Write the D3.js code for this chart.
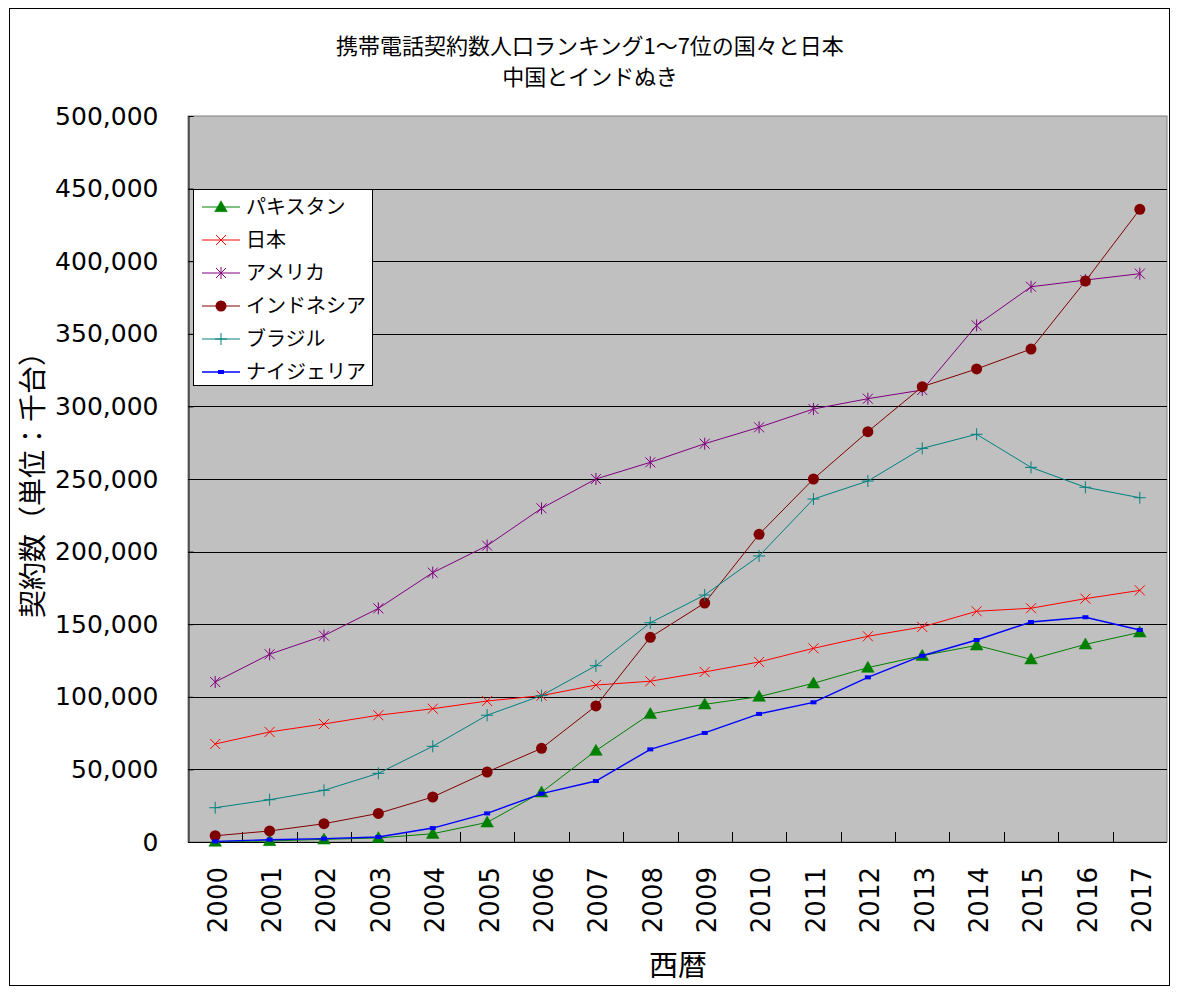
<!DOCTYPE html>
<html>
<head>
<meta charset="utf-8">
<script src="https://cdn.jsdelivr.net/npm/d3@7"></script>
<style>
  body { margin: 0; background: #FFFFFF; }
</style>
</head>
<body>
<div id="vis_container" style="width:1180px;height:992px;"></div>
<script>
var years = ["2000","2001","2002","2003","2004","2005","2006","2007","2008","2009","2010","2011","2012","2013","2014","2015","2016","2017"];
var seriesNames = ["パキスタン","日本","アメリカ","インドネシア","ブラジル","ナイジェリア"];
var pakistan  = [300, 700, 1800, 2800, 5700, 13500, 34200, 62900, 88200, 94800, 100100, 109300, 120100, 128300, 135400, 125800, 136100, 144400];
var japan     = [67500, 75800, 81300, 87300, 91800, 97100, 100800, 108100, 110700, 117100, 124000, 133400, 141700, 148100, 158900, 161000, 167600, 173300];
var america   = [110200, 129300, 142100, 160900, 185500, 204100, 229800, 250000, 261500, 274300, 285600, 298200, 305300, 311300, 355800, 382400, 387000, 391400];
var indonesia = [4300, 7600, 12600, 19700, 31000, 48200, 64500, 93700, 141000, 164600, 211900, 250000, 282600, 313600, 325800, 339500, 386300, 435700];
var brazil    = [23600, 29100, 35600, 47300, 65900, 87300, 100800, 121400, 151000, 170100, 197000, 236200, 248600, 271100, 280800, 258000, 244300, 237100];
var nigeria   = [400, 1600, 2300, 3400, 9600, 19700, 33300, 42000, 63800, 75100, 88200, 96200, 113400, 128300, 139100, 151500, 154800, 146000];
var yTicks = [0, 50000, 100000, 150000, 200000, 250000, 300000, 350000, 400000, 450000, 500000];
var titleLines = ["携帯電話契約数人口ランキング1～7位の国々と日本", "中国とインドぬき"];

var chart = {};
chart.width = 1180;
chart.height = 992;
chart.plot = {"left": 188, "right": 1167, "top": 116, "bottom": 842};
chart.font = "'Noto Sans CJK JP', sans-serif";
chart.numFont = "'DejaVu Sans', sans-serif";

var series = [
	{name: seriesNames[0], values: pakistan,  color: "#008000", marker: "triangle"},
	{name: seriesNames[1], values: japan,     color: "#FF0000", marker: "x"},
	{name: seriesNames[2], values: america,   color: "#800080", marker: "star"},
	{name: seriesNames[3], values: indonesia, color: "#800000", marker: "circle"},
	{name: seriesNames[4], values: brazil,    color: "#008080", marker: "plus"},
	{name: seriesNames[5], values: nigeria,   color: "#0000FF", marker: "square"}
];

chart.svg = d3.select("#vis_container").append("svg")
	.attr("width", chart.width)
	.attr("height", chart.height)
	.style("background-color", "#FFFFFF");

// outer frame
chart.svg.append("rect")
	.attr("x", 9.5).attr("y", 8.5)
	.attr("width", 1160).attr("height", 977)
	.attr("fill", "#FFFFFF")
	.attr("stroke", "#000000")
	.attr("stroke-width", 1);

chart.x = d3.scaleBand()
	.domain(years)
	.range([chart.plot.left, chart.plot.right]);

chart.y = d3.scaleLinear()
	.domain([0, 500000])
	.range([chart.plot.bottom, chart.plot.top]);

// plot background
chart.svg.append("rect")
	.attr("x", chart.plot.left)
	.attr("y", chart.plot.top)
	.attr("width", chart.plot.right - chart.plot.left)
	.attr("height", chart.plot.bottom - chart.plot.top)
	.attr("fill", "#C0C0C0")
	.attr("stroke", "#808080")
	.attr("stroke-width", 1);

// gridlines
chart.svg.append("g").selectAll("line")
	.data(yTicks.filter(function(d) { return d > 0 && d < 500000; }))
	.enter().append("line")
	.attr("x1", chart.plot.left)
	.attr("x2", chart.plot.right)
	.attr("y1", function(d) { return Math.round(chart.y(d)) + 0.5; })
	.attr("y2", function(d) { return Math.round(chart.y(d)) + 0.5; })
	.attr("stroke", "#000000")
	.attr("stroke-width", 1);

// y axis
var yAxis = d3.axisLeft(chart.y)
	.tickValues(yTicks)
	.tickSize(-5)
	.tickPadding(30)
	.tickFormat(d3.format(","));
var yg = chart.svg.append("g")
	.attr("transform", "translate(" + (chart.plot.left + 0.5) + ",0)")
	.call(yAxis);
yg.select(".domain").attr("stroke", "#000000");
yg.selectAll(".tick line").attr("stroke", "#000000");
yg.selectAll(".tick text")
	.attr("font-family", chart.numFont)
	.attr("font-size", "25px")
	.attr("fill", "#000000");

// x axis: ticks between categories, labels rotated
var xg = chart.svg.append("g");
xg.append("line")
	.attr("x1", chart.plot.left).attr("x2", chart.plot.right)
	.attr("y1", chart.plot.bottom + 0.5).attr("y2", chart.plot.bottom + 0.5)
	.attr("stroke", "#000000");
xg.selectAll(".xtick")
	.data(years.slice(1))
	.enter().append("line")
	.attr("class", "xtick")
	.attr("x1", function(d) { return Math.round(chart.x(d)) + 0.5; })
	.attr("x2", function(d) { return Math.round(chart.x(d)) + 0.5; })
	.attr("y1", chart.plot.bottom)
	.attr("y2", chart.plot.bottom - 10)
	.attr("stroke", "#000000");
xg.selectAll(".xlabel")
	.data(years)
	.enter().append("text")
	.attr("class", "xlabel")
	.attr("transform", function(d) {
		return "translate(" + (chart.x(d) + chart.x.bandwidth() / 2 + 2) + "," + 867 + ") rotate(-90)";
	})
	.attr("dy", "0.36em")
	.attr("text-anchor", "end")
	.attr("font-family", chart.numFont)
	.attr("font-size", "26px")
	.attr("fill", "#000000")
	.text(function(d) { return d; });

// axis titles
chart.svg.append("text")
	.attr("x", 678)
	.attr("y", 976)
	.attr("text-anchor", "middle")
	.attr("font-family", chart.font)
	.attr("font-size", "29px")
	.attr("fill", "#000000")
	.text("西暦");

chart.svg.append("text")
	.attr("transform", "translate(43,478) rotate(-90)")
	.attr("text-anchor", "middle")
	.attr("font-family", chart.font)
	.attr("font-size", "28px")
	.attr("fill", "#000000")
	.text("契約数（単位：千台）");

// title
chart.svg.append("g").selectAll("text")
	.data(titleLines)
	.enter().append("text")
	.attr("x", 590)
	.attr("y", function(d, i) { return 54 + i * 31; })
	.attr("text-anchor", "middle")
	.attr("font-family", chart.font)
	.attr("font-size", "22px")
	.attr("fill", "#000000")
	.text(function(d) { return d; });

// marker drawing
function drawMarker(sel, type, color) {
	if (type == "triangle") {
		sel.append("path")
			.attr("d", d3.symbol().type(d3.symbolTriangle).size(70))
			.attr("transform", "translate(0,1)")
			.attr("fill", color).attr("stroke", color).attr("stroke-width", 0.5);
	} else if (type == "circle") {
		sel.append("circle")
			.attr("r", 5.5)
			.attr("fill", color);
	} else if (type == "square") {
		sel.append("rect")
			.attr("x", -3).attr("y", -2)
			.attr("width", 6).attr("height", 4)
			.attr("fill", color);
	} else if (type == "x") {
		sel.append("path")
			.attr("d", "M-5,-5L5,5M-5,5L5,-5")
			.attr("stroke", color).attr("stroke-width", 1).attr("fill", "none");
	} else if (type == "star") {
		sel.append("path")
			.attr("d", "M-5,-5L5,5M-5,5L5,-5M0,-6L0,6")
			.attr("stroke", color).attr("stroke-width", 1).attr("fill", "none");
	} else if (type == "plus") {
		sel.append("path")
			.attr("d", "M-6,0L6,0M0,-6L0,6")
			.attr("stroke", color).attr("stroke-width", 1).attr("fill", "none");
	}
}

var line = d3.line()
	.x(function(d, i) { return chart.x(years[i]) + chart.x.bandwidth() / 2; })
	.y(function(d) { return chart.y(d); });

series.forEach(function(s) {
	var g = chart.svg.append("g").attr("class", "series");
	g.append("path")
		.datum(s.values)
		.attr("d", line)
		.attr("fill", "none")
		.attr("stroke", s.color)
		.attr("stroke-width", s.marker == "square" ? 1.4 : 1);
	g.selectAll(".pt")
		.data(s.values)
		.enter().append("g")
		.attr("class", "pt")
		.attr("transform", function(d, i) {
			return "translate(" + (chart.x(years[i]) + chart.x.bandwidth() / 2) + "," + chart.y(d) + ")";
		})
		.each(function() { drawMarker(d3.select(this), s.marker, s.color); });
});

// legend
chart.legend = chart.svg.append("g");
chart.legend.append("rect")
	.attr("x", 193.5).attr("y", 189.5)
	.attr("width", 179).attr("height", 196)
	.attr("fill", "#FFFFFF")
	.attr("stroke", "#000000")
	.attr("stroke-width", 1);
var items = chart.legend.selectAll(".item")
	.data(series)
	.enter().append("g")
	.attr("class", "item")
	.attr("transform", function(d, i) { return "translate(0," + (207 + i * 33) + ")"; });
items.append("line")
	.attr("x1", 202).attr("x2", 240)
	.attr("y1", 0).attr("y2", 0)
	.attr("stroke", function(d) { return d.color; })
	.attr("stroke-width", function(d) { return d.marker == "square" ? 1.4 : 1; });
items.append("g")
	.attr("transform", "translate(221,0)")
	.each(function(d) { drawMarker(d3.select(this), d.marker, d.color); });
items.append("text")
	.attr("x", 246)
	.attr("y", 0)
	.attr("dy", "0.36em")
	.attr("font-family", chart.font)
	.attr("font-size", "20px")
	.attr("fill", "#000000")
	.text(function(d) { return d.name; });
</script>
</body>
</html>
